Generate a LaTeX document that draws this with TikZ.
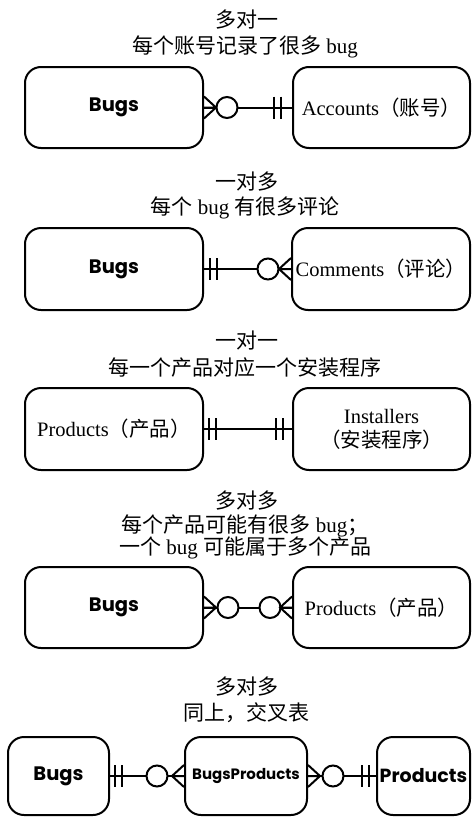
\documentclass[tikz,border=0pt]{standalone}
\usepackage{fontspec}
\setmainfont{Liberation Serif}
\newfontfamily\cjk{Noto Sans CJK SC}
\newfontfamily\geo{Poppins}
\usetikzlibrary{calc}
\tikzset{
  ent/.style={draw, line width=2pt, rounded corners=16pt, inner sep=0pt, align=center,
    font=\fontsize{20.5}{24}\selectfont},
  geolbl/.style={font=\geo\bfseries\fontsize{19.5}{22}\selectfont},
  conn/.style={line width=2pt},
  ttl/.style={inner sep=0pt, font=\fontsize{21}{24}\selectfont},
  crowfoot/.pic={\draw[conn] (0,-11) -- (12,0) -- (0,11) (0,0) -- (12,0);},
  zero/.pic={\draw[conn, fill=white] (0,0) circle (10.5pt);},
  twobars/.pic={\draw[conn] (0,-11) -- (0,11) (7,-11) -- (7,11);},
}
\begin{document}
\begin{tikzpicture}[x=1pt,y=-1pt]
\useasboundingbox[fill=white] (0,0) rectangle (472,817);

% ---------- row 1 ----------
\node[ttl] (t1a) at (247,20) {\cjk 多对一};
\node[ttl] (t1b) at (245,47) {{\cjk 每个账号记录了很多} bug};
\node[ent, minimum width=178pt, minimum height=81pt, geolbl] (b1) at (114,107.5) {Bugs};
\node[ent, minimum width=177pt, minimum height=81pt] (a1) at (381.5,107.5) {Accounts{\cjk （账号）}};
\draw[conn] (b1.east) -- (a1.west);
\pic at (b1.east) {crowfoot};
\pic at ($(b1.east)+(23,0)$) {zero};
\pic at ($(a1.west)+(-18,0)$) {twobars};

% ---------- row 2 ----------
\node[ttl] (t2a) at (247,182) {\cjk 一对多};
\node[ttl] (t2b) at (245,208) {{\cjk 每个} bug {\cjk 有很多评论}};
\node[ent, minimum width=178pt, minimum height=82pt, geolbl] (b2) at (114,269) {Bugs};
\node[ent, minimum width=178pt, minimum height=82pt] (a2) at (381,269) {Comments{\cjk （评论）}};
\draw[conn] (b2.east) -- (a2.west);
\pic at ($(b2.east)+(6,0)$) {twobars};
\pic at ($(a2.west)+(-23,0)$) {zero};
\pic[xscale=-1] at (a2.west) {crowfoot};

% ---------- row 3 ----------
\node[ttl] (t3a) at (247,341) {\cjk 一对一};
\node[ttl] (t3b) at (245,368) {\cjk 每一个产品对应一个安装程序};
\node[ent, minimum width=178pt, minimum height=82pt] (b3) at (114,429) {Products{\cjk （产品）}};
\node[ent, minimum width=177pt, minimum height=82pt] (a3) at (381.5,429) {Installers\\{\cjk （安装程序）}};
\draw[conn] (b3.east) -- (a3.west);
\pic at ($(b3.east)+(5,0)$) {twobars};
\pic at ($(a3.west)+(-16,0)$) {twobars};

% ---------- row 4 ----------
\node[ttl] (t4a) at (247,501) {\cjk 多对多};
\node[ttl] (t4b) at (245,526) {{\cjk 每个产品可能有很多} bug{\cjk ；}};
\node[ttl] (t4c) at (245,548) {{\cjk 一个} bug {\cjk 可能属于多个产品}};
\node[ent, minimum width=178pt, minimum height=81pt, geolbl] (b4) at (114,607.5) {Bugs};
\node[ent, minimum width=177pt, minimum height=81pt] (a4) at (381.5,607.5) {Products{\cjk （产品）}};
\draw[conn] (b4.east) -- (a4.west);
\pic at (b4.east) {crowfoot};
\pic at ($(b4.east)+(24,0)$) {zero};
\pic at ($(a4.west)+(-22,0)$) {zero};
\pic[xscale=-1] at (a4.west) {crowfoot};

% ---------- row 5 ----------
\node[ttl] (t5a) at (247,687) {\cjk 多对多};
\node[ttl] (t5b) at (246,713) {\cjk 同上，交叉表};
\node[ent, minimum width=101pt, minimum height=78pt, geolbl] (b5) at (58.5,776) {Bugs};
\node[ent, minimum width=122pt, minimum height=78pt, font=\geo\bfseries\fontsize{15}{18}\selectfont] (m5) at (246,776) {BugsProducts};
\node[ent, minimum width=93pt, minimum height=78pt, font=\geo\bfseries\fontsize{19}{22}\selectfont] (p5) at (423.5,776) {Products};
\draw[conn] (b5.east) -- (m5.west);
\draw[conn] (m5.east) -- (p5.west);
\pic at ($(b5.east)+(5,0)$) {twobars};
\pic at ($(m5.west)+(-27,0)$) {zero};
\pic[xscale=-1] at (m5.west) {crowfoot};
\pic at (m5.east) {crowfoot};
\pic at ($(m5.east)+(25,0)$) {zero};
\pic at ($(p5.west)+(-14,0)$) {twobars};
\end{tikzpicture}
\end{document}
